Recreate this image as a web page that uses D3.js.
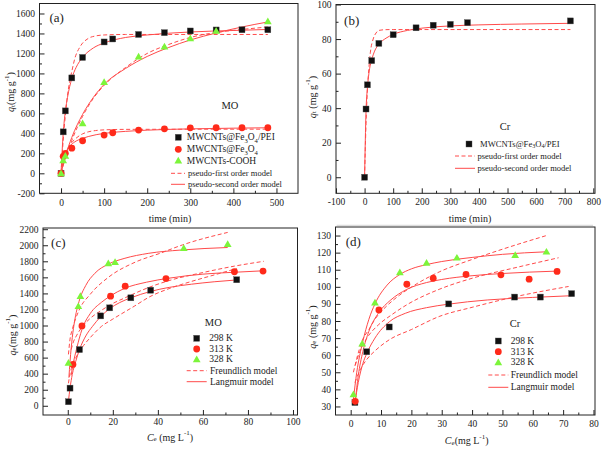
<!DOCTYPE html>
<html><head><meta charset="utf-8">
<script src="https://cdn.jsdelivr.net/npm/d3@7"></script>
<style>html,body{margin:0;padding:0;background:#fff;} svg{display:block;font-family:"Liberation Serif","Times New Roman",serif;}</style>
</head><body><svg id="c" width="603" height="451"></svg>
<script>
// ---------- Panel (a): kinetics MO ----------
const timeA = [0,5,10,25,50,100,120,180,240,300,360,420,480];
const peiA = [0,415,625,955,1160,1315,1345,1390,1408,1425,1435,1437,1437];
const timeFeA = [0,5,10,25,50,100,120,180,240,300,360,420,480];
const fe3o4A = [0,170,200,252,326,383,406,433,445,455,456,456,456];
const timeCoohA = [0,5,10,50,100,180,240,300,360,480];
const coohA = [0,130,175,500,912,1168,1268,1350,1425,1520];
const peiPfoA = [[0,0],[5,330],[10,580],[15,780],[20,920],[25,1020],[32,1150],[44,1266],[63,1350],[80,1375],[100,1385],[150,1390],[480,1390]];
const peiPsoA = [[0,0],[5,400],[10,620],[15,760],[25,950],[35,1060],[50,1160],[75,1255],[100,1305],[150,1360],[200,1385],[300,1415],[400,1430],[480,1440]];
const fePfoA = [[0,0],[5,110],[10,190],[20,280],[32,340],[50,395],[63,415],[80,428],[100,435],[150,440],[480,442]];
const fePsoA = [[0,0],[5,120],[10,195],[20,270],[32,315],[50,350],[63,368],[100,400],[150,420],[200,432],[300,445],[400,452],[480,456]];
const coohPfoA = [[0,0],[10,150],[25,330],[50,570],[75,750],[100,880],[150,1060],[200,1200],[250,1290],[300,1360],[360,1410],[420,1440],[480,1465]];
const coohPsoA = [[0,0],[10,170],[25,360],[50,590],[75,760],[100,890],[150,1050],[200,1170],[250,1260],[300,1335],[360,1405],[420,1465],[480,1515]];
const xTicksA = [0,100,200,300,400,500];
const yTicksA = [-200,0,200,400,600,800,1000,1200,1400,1600];

// ---------- Panel (b): kinetics Cr ----------
const timeB = [0,5,10,25,50,100,180,240,300,360,720];
const peiB = [0,39.5,53.5,67.5,77.5,82.5,86.5,88,88.5,89.5,90.5];
const pfoB = [[0,0],[5,31],[10,51],[15,63],[20,72],[30,80],[40,83.5],[50,85],[70,85.4],[100,85.5],[720,85.5]];
const psoB = [[0,0],[5,38],[10,52],[15,60],[25,68],[35,73],[50,77],[75,80.5],[100,82.7],[150,85],[200,86.3],[300,87.6],[400,88.2],[550,88.7],[720,89.1]];
const xTicksB = [-100,0,100,200,300,400,500,600,700,800];
const yTicksB = [0,20,40,60,80,100];

// ---------- Panel (c): isotherms MO ----------
const ce298c = [0.3,1,5.2,14.6,18.6,28,36.8,75];
const qe298c = [50,220,700,1120,1220,1345,1440,1570];
const ce313c = [2.3,6.3,19,25.5,43.6,74,86.7];
const qe313c = [515,995,1365,1490,1585,1670,1678];
const ce328c = [0.3,4.7,5.6,18,21,51.5,71];
const qe328c = [535,1240,1365,1775,1790,1965,2015];
const lang298c = [[0.3,60],[1,220],[2,390],[3.5,550],[5.2,700],[8,870],[11,990],[14.6,1110],[18.6,1210],[23,1285],[28,1345],[36.8,1425],[45,1475],[55,1515],[65,1545],[75,1568]];
const freu298c = [[0.3,280],[1,400],[2,500],[4,620],[7,750],[10,850],[15,990],[20,1080],[29.5,1240],[36.5,1360],[45,1460],[55,1550],[65,1630],[75,1710]];
const lang313c = [[1.5,380],[2.3,510],[4,720],[6.3,950],[10,1150],[15,1290],[19,1370],[25,1460],[35,1540],[45,1590],[60,1640],[75,1665],[87,1682]];
const freu313c = [[1.5,700],[2.3,780],[4,880],[6.3,980],[10,1090],[15,1190],[19,1260],[25,1340],[36.5,1480],[45,1560],[60,1660],[74,1740],[87,1800]];
const lang328c = [[0.5,350],[1,550],[2,850],[3,1050],[5,1300],[8,1500],[12,1650],[18,1765],[25,1835],[36,1900],[50,1940],[71,1972]];
const freu328c = [[0.3,640],[1,830],[2,950],[5,1190],[10,1390],[18,1600],[30,1790],[41,1900],[51,2005],[71,2160]];
const xTicksC = [0,20,40,60,80,100];
const yTicksC = [0,200,400,600,800,1000,1200,1400,1600,1800,2000,2200];

// ---------- Panel (d): isotherms Cr ----------
const ce298d = [1.4,5.3,12.7,32.3,54,62.5,72.8];
const qe298d = [32.3,62,76.5,90,94,94,96];
const ce313d = [1.5,9.3,18.5,27.2,38,49.5,58.8,68];
const qe313d = [33,86.5,101.5,105,107.2,107,104.5,109];
const ce328d = [0.9,3.8,8,16.2,25,35,54.2,64.5];
const qe328d = [37,66.8,90.7,108.5,114,117,118.5,120.5];
const lang298d = [[1.4,32],[2.5,44],[4,55],[5.3,61],[8,70],[12.7,79.5],[18,84.5],[25,87.8],[32,89.8],[45,92.3],[60,93.8],[72.8,94.8]];
const freu298d = [[1.4,44],[3,51],[5.3,57.5],[8,62.5],[12.7,69],[20,75],[29.4,82.8],[40,88],[55,94.5],[71.8,100.2]];
const lang313d = [[1.5,33],[2.5,48],[4,62],[6,74],[9.3,85],[13,92],[18.5,98.5],[25,102.5],[30,104.3],[40,106.5],[50,107.8],[68,109.2]];
const freu313d = [[1.5,54],[3,62],[5,69],[9.3,78],[13,83],[18.5,89.5],[29.4,98.7],[40,105],[55,111.5],[68.5,117]];
const lang328d = [[0.9,34],[2,50],[3,60],[4,68],[6,81],[8,90],[12,101],[16,107],[20,110.5],[25,113],[30,114.8],[40,117.2],[50,119],[64.5,120.5]];
const freu328d = [[0.9,50],[2,58],[3.8,68.5],[6,75],[8,81],[12,89],[16,95],[22,102],[29.4,108.9],[40,116],[50,122],[64.5,130]];
const xTicksD = [0,10,20,30,40,50,60,70,80];
const yTicksD = [30,40,50,60,70,80,90,100,110,120,130];

// ---------- styles ----------
const BLACK = "#111", RED = "#ff2a1a", GREEN = "#7cf53a", LINE = "#ff4a4a", TXT = "#222";

const svg = d3.select("#c");

function richText(g, x, y, parts, opts = {}) {
  const size = opts.size || 10;
  const t = g.append("text").attr("x", x).attr("y", y)
    .attr("font-size", size).attr("fill", TXT)
    .attr("text-anchor", opts.anchor || "start")
    .attr("dominant-baseline", "central");
  if (opts.rotate) t.attr("transform", `rotate(-90,${x},${y})`);
  let shift = 0;
  parts.forEach(p => {
    const s = t.append("tspan").text(p.t);
    let target = 0;
    if (p.sub) { s.attr("font-size", size * 0.7); target = size * 0.25; }
    if (p.sup) { s.attr("font-size", size * 0.7); target = -size * 0.35; }
    if (p.it) s.attr("font-style", "italic");
    if (target !== shift) { s.attr("dy", target - shift); shift = target; }
  });
  return t;
}

function drawMarker(g, shape, cx, cy, color) {
  if (shape === "square") {
    g.append("rect").attr("x", cx - 3).attr("y", cy - 3).attr("width", 6).attr("height", 6)
      .attr("fill", color).attr("stroke", "#555").attr("stroke-width", 0.4);
  } else if (shape === "circle") {
    g.append("circle").attr("cx", cx).attr("cy", cy).attr("r", 3.4).attr("fill", color);
  } else {
    g.append("path").attr("d", d3.symbol(d3.symbolTriangle, 26)()).attr("transform", `translate(${cx},${cy + 0.6})`).attr("fill", color);
  }
}

function panel(p) {
  const g = svg.append("g");
  const x = d3.scaleLinear().domain(p.xDomain).range([p.left, p.right]);
  const y = d3.scaleLinear().domain(p.yDomain).range([p.bottom, p.top]);
  const xStep = p.xTicks[1] - p.xTicks[0], yStep = p.yTicks[1] - p.yTicks[0];
  const xMinor = p.xTicks.map(v => v + xStep / 2).filter(v => x(v) < p.right - 1);
  const yMinor = p.yTicks.map(v => v + yStep / 2).filter(v => y(v) > p.top + 1);

  const ax = (sel) => { sel.select(".domain").remove(); sel.selectAll("line").attr("stroke", "#222"); };
  g.append("g").attr("transform", `translate(0,${p.bottom})`)
    .call(d3.axisBottom(x).tickValues(xMinor).tickSize(-2.5).tickFormat("")).call(ax);
  const xa = g.append("g").attr("transform", `translate(0,${p.bottom})`)
    .call(d3.axisBottom(x).tickValues(p.xTicks).tickSize(-5).tickPadding(p.xPad).tickFormat(d => String(d))).call(ax);
  g.append("g").attr("transform", `translate(${p.left},0)`)
    .call(d3.axisLeft(y).tickValues(yMinor).tickSize(-2.5).tickFormat("")).call(ax);
  const ya = g.append("g").attr("transform", `translate(${p.left},0)`)
    .call(d3.axisLeft(y).tickValues(p.yTicks).tickSize(-5).tickPadding(4.5).tickFormat(d => String(d))).call(ax);
  [xa, ya].forEach(a => a.selectAll("text").attr("font-size", 9.5).attr("fill", TXT)
    .attr("font-family", "Liberation Serif, Times New Roman, serif"));

  g.append("rect").attr("x", p.left).attr("y", p.top).attr("width", p.right - p.left).attr("height", p.bottom - p.top)
    .attr("fill", "none").attr("stroke", "#222").attr("stroke-width", 1);

  const line = d3.line().x(d => x(d[0])).y(d => y(d[1])).curve(d3.curveMonotoneX);
  const cl = g.append("g");
  p.curves.forEach(c => {
    cl.append("path").attr("d", line(c.pts)).attr("fill", "none").attr("stroke", LINE)
      .attr("stroke-width", 1).attr("stroke-dasharray", c.dash ? "4,2.5" : null);
  });
  const mk = g.append("g");
  p.series.forEach(s => {
    s.xs.forEach((v, i) => drawMarker(mk, s.shape, x(v), y(s.ys[i]), s.color));
  });
  return { g, x, y };
}

// ---------- Panel (a) ----------
panel({
  left: 39.5, right: 298, top: 3.5, bottom: 193.3,
  xDomain: [-50, 550], yDomain: [-200, 1700], xTicks: xTicksA, yTicks: yTicksA, xPad: 6,
  curves: [
    { pts: peiPfoA, dash: true }, { pts: peiPsoA },
    { pts: coohPfoA, dash: true }, { pts: coohPsoA },
    { pts: fePfoA, dash: true }, { pts: fePsoA }
  ],
  series: [
    { xs: timeA, ys: peiA, shape: "square", color: BLACK },
    { xs: timeFeA, ys: fe3o4A, shape: "circle", color: RED },
    { xs: timeCoohA, ys: coohA, shape: "triangle", color: GREEN }
  ]
});
// ---------- Panel (b) ----------
panel({
  left: 336, right: 595, top: 4.5, bottom: 193.3,
  xDomain: [-100, 806], yDomain: [-9.3, 100], xTicks: xTicksB, yTicks: yTicksB, xPad: 4.5,
  curves: [{ pts: pfoB, dash: true }, { pts: psoB }],
  series: [{ xs: timeB, ys: peiB, shape: "square", color: BLACK }]
});
// ---------- Panel (c) ----------
panel({
  left: 43, right: 297.5, top: 228, bottom: 415,
  xDomain: [-11, 102], yDomain: [-115, 2215], xTicks: xTicksC, yTicks: yTicksC, xPad: 3,
  curves: [
    { pts: freu328c, dash: true }, { pts: lang328c },
    { pts: freu313c, dash: true }, { pts: lang313c },
    { pts: freu298c, dash: true }, { pts: lang298c }
  ],
  series: [
    { xs: ce298c, ys: qe298c, shape: "square", color: BLACK },
    { xs: ce313c, ys: qe313c, shape: "circle", color: RED },
    { xs: ce328c, ys: qe328c, shape: "triangle", color: GREEN }
  ]
});
// ---------- Panel (d) ----------
panel({
  left: 335.5, right: 595, top: 227, bottom: 415,
  xDomain: [-5, 80.5], yDomain: [25, 135], xTicks: xTicksD, yTicks: yTicksD, xPad: 5,
  curves: [
    { pts: freu328d, dash: true }, { pts: lang328d },
    { pts: freu313d, dash: true }, { pts: lang313d },
    { pts: freu298d, dash: true }, { pts: lang298d }
  ],
  series: [
    { xs: ce298d, ys: qe298d, shape: "square", color: BLACK },
    { xs: ce313d, ys: qe313d, shape: "circle", color: RED },
    { xs: ce328d, ys: qe328d, shape: "triangle", color: GREEN }
  ]
});

// ---------- labels ----------
const L = svg.append("g");
richText(L, 56.7, 16.7, [{ t: "(a)" }], { size: 13, anchor: "middle" });
richText(L, 351.7, 20, [{ t: "(b)" }], { size: 13, anchor: "middle" });
richText(L, 58.3, 242.3, [{ t: "(c)" }], { size: 13, anchor: "middle" });
richText(L, 353.3, 240.7, [{ t: "(d)" }], { size: 13, anchor: "middle" });

richText(L, 170, 218.3, [{ t: "time (min)" }], { size: 10, anchor: "middle" });
richText(L, 470, 218.3, [{ t: "time (min)" }], { size: 10, anchor: "middle" });
richText(L, 170, 436.7, [{ t: "C", it: true }, { t: "e", sub: true }, { t: " (mg L" }, { t: "-1", sup: true }, { t: ")" }], { size: 10, anchor: "middle" });
richText(L, 466.7, 440, [{ t: "C", it: true }, { t: "e", sub: true }, { t: "(mg L" }, { t: "-1", sup: true }, { t: ")" }], { size: 10, anchor: "middle" });

richText(L, 10, 92, [{ t: "q", it: true }, { t: "t", sub: true }, { t: "(mg g" }, { t: "-1", sup: true }, { t: ")" }], { size: 10, anchor: "middle", rotate: true });
richText(L, 311.7, 97, [{ t: "q", it: true }, { t: "t", sub: true }, { t: " (mg g" }, { t: "-1", sup: true }, { t: ")" }], { size: 10, anchor: "middle", rotate: true });
richText(L, 11.7, 335, [{ t: "q", it: true }, { t: "e", sub: true }, { t: "(mg g" }, { t: "-1", sup: true }, { t: ")" }], { size: 10, anchor: "middle", rotate: true });
richText(L, 311.7, 327, [{ t: "q", it: true }, { t: "e", sub: true }, { t: " (mg g" }, { t: "-1", sup: true }, { t: ")" }], { size: 10, anchor: "middle", rotate: true });

richText(L, 230, 105, [{ t: "MO" }], { size: 10.5, anchor: "middle" });
richText(L, 505, 126, [{ t: "Cr" }], { size: 10.5, anchor: "middle" });
richText(L, 213.3, 321.7, [{ t: "MO" }], { size: 10.5, anchor: "middle" });
richText(L, 515, 323.3, [{ t: "Cr" }], { size: 10.5, anchor: "middle" });

// ---------- legends ----------
const peiLabel = [{ t: "MWCNTs@Fe" }, { t: "3", sub: true }, { t: "O" }, { t: "4", sub: true }, { t: "/PEI" }];
const feLabel = [{ t: "MWCNTs@Fe" }, { t: "3", sub: true }, { t: "O" }, { t: "4", sub: true }];
const coohLabel = [{ t: "MWCNTs-COOH" }];
const pfoLabel = [{ t: "pseudo-first order model" }];
const psoLabel = [{ t: "pseudo-second order model" }];
const tempLabels = ["298 K", "313 K", "328 K"];
const freuLabel = [{ t: "Freundlich model" }];
const langLabel = [{ t: "Langmuir model" }];

function legLine(g, x1, x2, yy, dash) {
  g.append("line").attr("x1", x1).attr("x2", x2).attr("y1", yy).attr("y2", yy)
    .attr("stroke", LINE).attr("stroke-width", 1).attr("stroke-dasharray", dash ? "4,2.5" : null);
}
// (a)
drawMarker(L, "square", 178.3, 137.3, BLACK); richText(L, 186.7, 137.3, peiLabel, { size: 9.5 });
drawMarker(L, "circle", 178.3, 149.3, RED); richText(L, 186.7, 149.3, feLabel, { size: 9.5 });
drawMarker(L, "triangle", 178.3, 160.7, GREEN); richText(L, 186.7, 160.7, coohLabel, { size: 9.5 });
legLine(L, 171, 185, 173.3, true); richText(L, 188, 173.3, pfoLabel, { size: 8.5 });
legLine(L, 171, 185, 184.3, false); richText(L, 188, 184.3, psoLabel, { size: 8.5 });
// (b)
drawMarker(L, "square", 469, 144, BLACK); richText(L, 480, 144, peiLabel, { size: 8.6 });
legLine(L, 455, 475, 156, true); richText(L, 477.5, 156, pfoLabel, { size: 8.5 });
legLine(L, 455, 475, 168.3, false); richText(L, 477.5, 168.3, psoLabel, { size: 8.5 });
// (c)
[["square", BLACK], ["circle", RED], ["triangle", GREEN]].forEach((m, i) => {
  const yy = [338.3, 349, 359.3][i];
  drawMarker(L, m[0], 196.7, yy, m[1]); richText(L, 209.3, yy, [{ t: tempLabels[i] }], { size: 9.5 });
});
legLine(L, 186.7, 206.7, 370.7, true); richText(L, 210, 370.7, freuLabel, { size: 9.5 });
legLine(L, 186.7, 206.7, 381.7, false); richText(L, 210, 381.7, langLabel, { size: 9.5 });
// (d)
[["square", BLACK], ["circle", RED], ["triangle", GREEN]].forEach((m, i) => {
  const yy = [341, 351.7, 362.3][i];
  drawMarker(L, m[0], 498.3, yy, m[1]); richText(L, 510.7, yy, [{ t: tempLabels[i] }], { size: 9.5 });
});
legLine(L, 488.3, 508.3, 375, true); richText(L, 510.7, 375, freuLabel, { size: 9.5 });
legLine(L, 488.3, 508.3, 387.3, false); richText(L, 510.7, 387.3, langLabel, { size: 9.5 });

// faint separator under panel (b)
L.append("line").attr("x1", 336.7).attr("x2", 593).attr("y1", 225.3).attr("y2", 225.3).attr("stroke", "#c8c8c8").attr("stroke-width", 0.8);
</script></body></html>
